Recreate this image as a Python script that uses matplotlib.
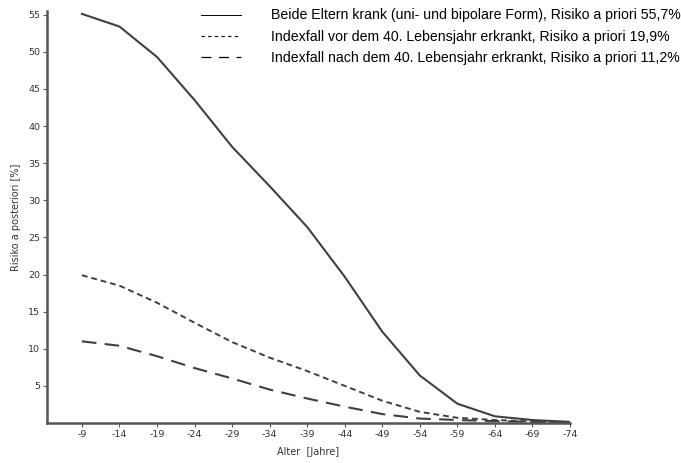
import matplotlib.pyplot as plt
import numpy as np
from matplotlib.lines import Line2D

# age classes (upper bound) shown on the x axis
age_labels = ['-9', '-14', '-19', '-24', '-29', '-34', '-39', '-44', '-49',
              '-54', '-59', '-64', '-69', '-74']

# risk a posteriori [%] at each age tick
beide_eltern = [55.1, 53.4, 49.3, 43.5, 37.2, 31.9, 26.4, 19.7, 12.3,
                6.4, 2.6, 0.9, 0.4, 0.15]
vor_40 = [19.9, 18.5, 16.2, 13.5, 10.9, 8.8, 7.0, 5.0, 3.0,
          1.5, 0.7, 0.4, 0.2, 0.1]
nach_40 = [11.0, 10.4, 9.0, 7.4, 6.0, 4.5, 3.3, 2.2, 1.2,
           0.6, 0.4, 0.25, 0.15, 0.1]

legend_labels = [
    'Beide Eltern krank (uni- und bipolare Form), Risiko a priori 55,7%',
    'Indexfall vor dem 40. Lebensjahr erkrankt, Risiko a priori 19,9%',
    'Indexfall nach dem 40. Lebensjahr erkrankt, Risiko a priori 11,2%',
]
y_ticks = [5, 10, 15, 20, 25, 30, 35, 40, 45, 50, 55]

fig = plt.figure(figsize=(6.81, 4.63), dpi=100)
ax = fig.add_axes([0.069, 0.0864, 0.768, 0.89])

x = np.arange(len(age_labels))
line_col = '#404040'
ax.plot(x, beide_eltern, color=line_col, lw=1.5, solid_joinstyle='round')
ax.plot(x, vor_40, color=line_col, lw=1.4, dashes=(3, 2))
ax.plot(x, nach_40, color=line_col, lw=1.5, dashes=(7, 4))

ax.set_xlim(-0.93, 13.0)
ax.set_ylim(0, 55.5)

for side in ['top', 'right']:
    ax.spines[side].set_visible(False)
for side in ['left', 'bottom']:
    ax.spines[side].set_color('#555555')
    ax.spines[side].set_linewidth(1.8)

ax.set_xticks(x)
ax.set_xticklabels(age_labels)
ax.set_yticks(y_ticks)
ax.set_yticklabels([str(v) for v in y_ticks])
ax.tick_params(axis='both', labelsize=6.8, colors='#555555', length=3, width=0.8,
               labelcolor='#333333', pad=2)

ax.set_xlabel('Alter  [Jahre]', fontsize=7, color='#333333', labelpad=6)
ax.set_ylabel('Risiko a posteriori [%]', fontsize=7, color='#333333', labelpad=5)

# legend in the upper right, printed style
handles = [
    Line2D([], [], color='black', lw=0.7),
    Line2D([], [], color='black', lw=0.8, dashes=(3, 3)),
    Line2D([], [], color='black', lw=0.9, dashes=(8, 6)),
]
fig.legend(handles, legend_labels, loc='upper left',
           bbox_to_anchor=(0.283, 1.0), frameon=False,
           prop={'family': 'Liberation Sans', 'size': 10.2},
           handlelength=2.8, handletextpad=2.1, labelspacing=0.5,
           borderaxespad=0.2)

fig.savefig('out.png', dpi=100, facecolor='white')
